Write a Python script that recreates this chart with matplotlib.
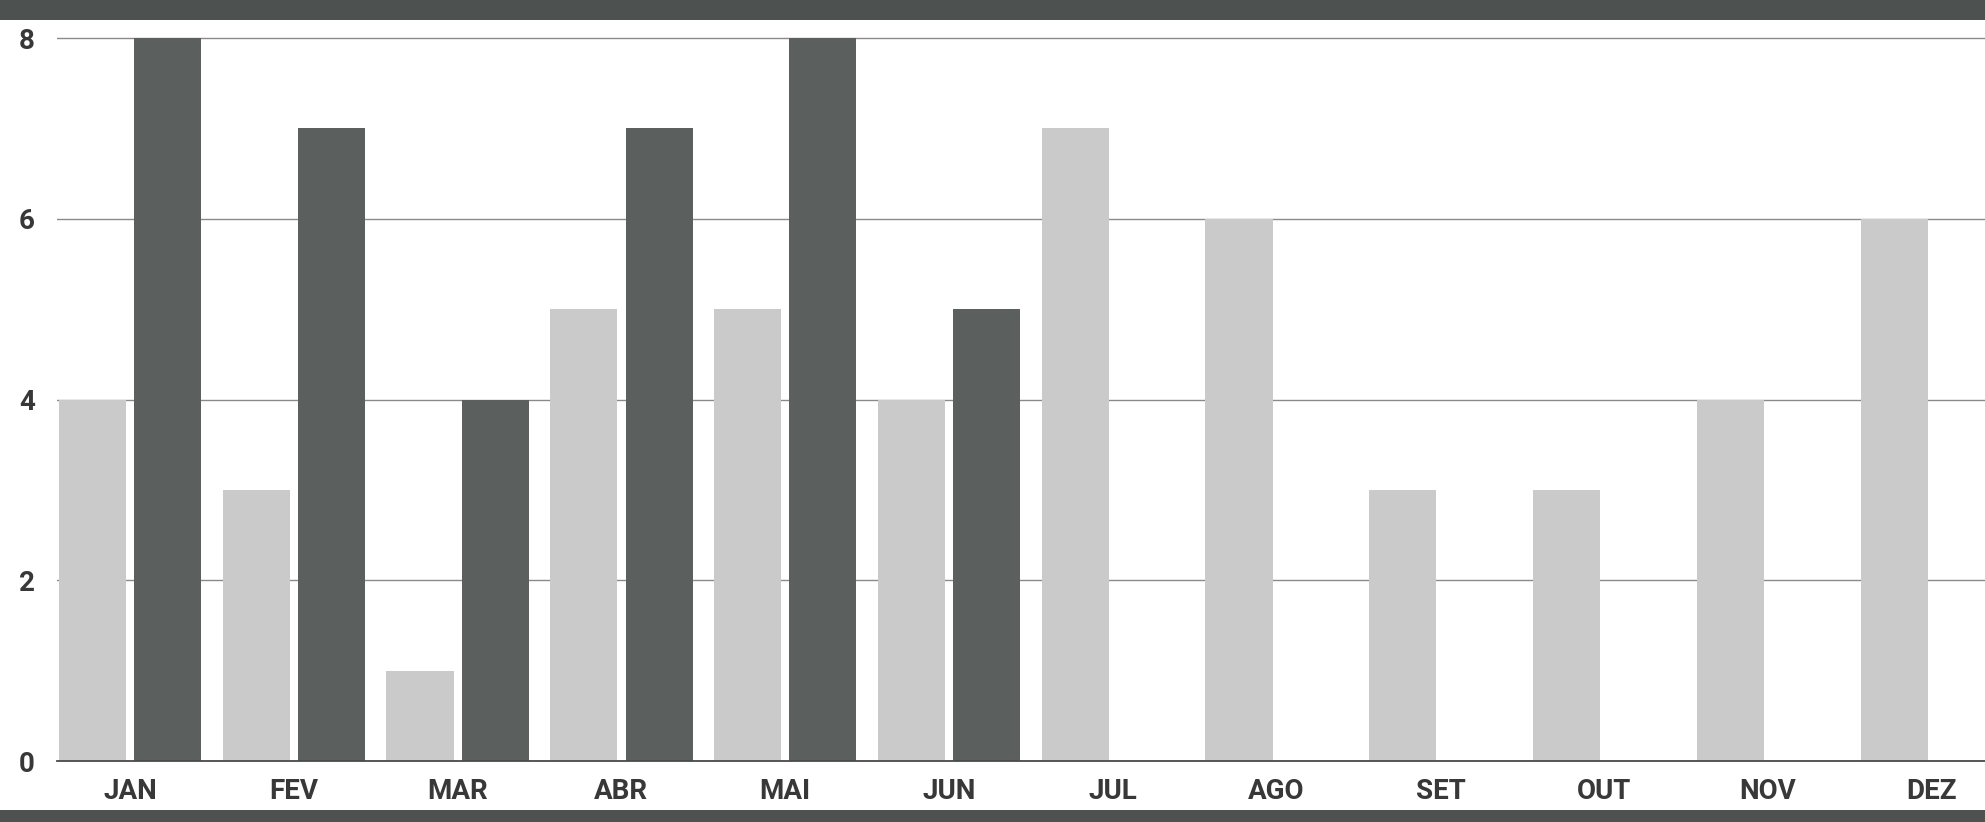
import numpy as np
import matplotlib.pyplot as plt
from matplotlib.patches import Rectangle

meses = ['JAN', 'FEV', 'MAR', 'ABR', 'MAI', 'JUN',
         'JUL', 'AGO', 'SET', 'OUT', 'NOV', 'DEZ']
serie_clara = [4, 3, 1, 5, 5, 4, 7, 6, 3, 3, 4, 6]
serie_escura = [8, 7, 4, 7, 8, 5, 0, 0, 0, 0, 0, 0]
y_ticks = [0, 2, 4, 6, 8]

plt.rcParams['font.family'] = ['Roboto', 'DejaVu Sans']

fig = plt.figure(figsize=(19.85, 8.22), dpi=100)
fig.patch.set_facecolor('#4d5251')

# white paper area between the dark bands
bg = fig.add_axes([0, 0, 1, 1], zorder=-1)
bg.axis('off')
bg.add_patch(Rectangle((0, 12/822), 1, 1 - 12/822 - 20/822,
                       transform=bg.transAxes, facecolor='white',
                       edgecolor='none'))

ax = fig.add_axes([57/1985, 1 - 761/822, 1 - 57/1985, 741/822])
ax.set_facecolor('none')

x = np.arange(len(meses))
w = 0.41
ax.bar(x - 0.23, serie_clara, width=w, color='#cacaca', zorder=3)
ax.bar(x + 0.23, serie_escura, width=w, color='#5b605f', zorder=3)

ax.set_xlim(-0.446, 11.325)
ax.set_ylim(0, 8.2)
ax.set_yticks(y_ticks)
ax.set_xticks(x)
ax.set_xticklabels(meses)
ax.yaxis.grid(True, color='#8a8a8a', linewidth=1.0, zorder=1)
ax.xaxis.grid(False)

for s in ['top', 'right', 'left']:
    ax.spines[s].set_visible(False)
ax.spines['bottom'].set_color('#4a4a4a')
ax.spines['bottom'].set_linewidth(1.3)
ax.spines['bottom'].set_zorder(4)

ax.tick_params(axis='both', length=0, labelsize=20, labelcolor='#383838')
ax.tick_params(axis='y', pad=16)
ax.tick_params(axis='x', pad=12)
for t in ax.get_xticklabels() + ax.get_yticklabels():
    t.set_fontweight('bold')

plt.savefig('out.png', dpi=100, facecolor=fig.get_facecolor())
